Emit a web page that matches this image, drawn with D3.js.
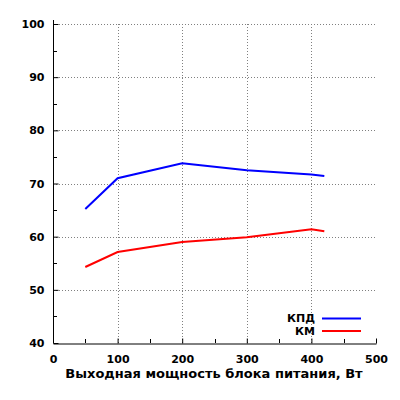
<!DOCTYPE html>
<html>
<head>
<meta charset="utf-8">
<script src="https://cdn.jsdelivr.net/npm/d3@7"></script>
<style>
body { margin: 0; background: #fff; }
text { font-family: "DejaVu Sans", sans-serif; font-weight: bold; }
</style>
</head>
<body>
<svg id="chart" width="400" height="400"></svg>
<script>
// values
var power = [50, 100, 200, 300, 400, 420];
var kpd = [65.2, 71.0, 73.8, 72.5, 71.7, 71.4];
var km = [54.3, 57.1, 59.0, 59.9, 61.4, 61.0];
var seriesNames = ["КПД", "КМ"];
var seriesColors = ["#0000ff", "#ff0000"];
var xTicks = [0, 100, 200, 300, 400, 500];
var xMinor = [50, 150, 250, 350, 450];
var yTicks = [40, 50, 60, 70, 80, 90, 100];
var yMinor = [45, 55, 65, 75, 85, 95];
var xTitle = "Выходная мощность блока питания, Вт";

var width = 400, height = 400;
var margin = {top: 24, right: 24, bottom: 57, left: 53};

var svg = d3.select("#chart");

var x = d3.scaleLinear()
  .domain([0, 500])
  .range([margin.left, width - margin.right]);

var y = d3.scaleLinear()
  .domain([40, 100])
  .range([height - margin.bottom, margin.top]);

// dotted grid
var grid = svg.append("g")
  .attr("stroke", "#808080")
  .attr("stroke-width", 1)
  .attr("stroke-dasharray", "1,2");

grid.selectAll("line.gx")
  .data(xTicks.filter(d => d > 0 && d < 500))
  .join("line")
  .attr("class", "gx")
  .attr("x1", d => Math.round(x(d)) + 0.5)
  .attr("x2", d => Math.round(x(d)) + 0.5)
  .attr("y1", y(40))
  .attr("y2", y(100));

grid.selectAll("line.gy")
  .data(yTicks.filter(d => d > 40))
  .join("line")
  .attr("class", "gy")
  .attr("x1", x(0))
  .attr("x2", x(500))
  .attr("y1", d => Math.round(y(d)) + 0.5)
  .attr("y2", d => Math.round(y(d)) + 0.5);

// axes, ticks pointing inward
var xAxis = g => g
  .attr("transform", `translate(0,${Math.round(y(40)) + 0.5})`)
  .call(d3.axisBottom(x).tickValues(xTicks).tickSize(-5).tickPadding(12).tickSizeOuter(0))
  .call(g => g.selectAll(".tick text").attr("font-size", 11).attr("font-family", "DejaVu Sans").attr("font-weight", "bold").attr("fill", "#000"));

var yAxis = g => g
  .attr("transform", `translate(${Math.round(x(0)) + 0.5},0)`)
  .call(d3.axisLeft(y).tickValues(yTicks).tickSize(-5).tickPadding(9).tickSizeOuter(0))
  .call(g => g.selectAll(".tick text").attr("font-size", 11).attr("font-family", "DejaVu Sans").attr("font-weight", "bold").attr("fill", "#000"))
  .call(g => g.select(".domain").attr("d", `M0,${y(40)}V${y(100) - 4}`));

svg.append("g").call(xAxis);
svg.append("g").call(yAxis);

// minor ticks
svg.append("g")
  .attr("stroke", "#000")
  .selectAll("line")
  .data(xMinor)
  .join("line")
  .attr("x1", d => Math.round(x(d)) + 0.5)
  .attr("x2", d => Math.round(x(d)) + 0.5)
  .attr("y1", y(40))
  .attr("y2", y(40) - 4);

svg.append("g")
  .attr("stroke", "#000")
  .selectAll("line")
  .data(yMinor)
  .join("line")
  .attr("x1", x(0))
  .attr("x2", x(0) + 4)
  .attr("y1", d => Math.round(y(d)) + 0.5)
  .attr("y2", d => Math.round(y(d)) + 0.5);

// lines
var line = d3.line()
  .x(d => x(d[0]))
  .y(d => y(d[1]));

[kpd, km].forEach(function(vals, i) {
  svg.append("path")
    .datum(power.map((p, k) => [p, vals[k]]))
    .attr("fill", "none")
    .attr("stroke", seriesColors[i])
    .attr("stroke-width", 2)
    .attr("d", line);
});

// legend
var legend = svg.append("g");
seriesNames.forEach(function(name, i) {
  var ly = 318.5 + i * 12.5;
  legend.append("text")
    .attr("x", 315)
    .attr("y", ly)
    .attr("dy", "0.35em")
    .attr("text-anchor", "end")
    .attr("font-size", 11)
    .text(name);
  legend.append("line")
    .attr("x1", 322)
    .attr("x2", 361)
    .attr("y1", ly)
    .attr("y2", ly)
    .attr("stroke", seriesColors[i])
    .attr("stroke-width", 2);
});

// axis title
svg.append("text")
  .attr("x", 214)
  .attr("y", 378)
  .attr("text-anchor", "middle")
  .attr("font-size", 13)
  .text(xTitle);
</script>
</body>
</html>
